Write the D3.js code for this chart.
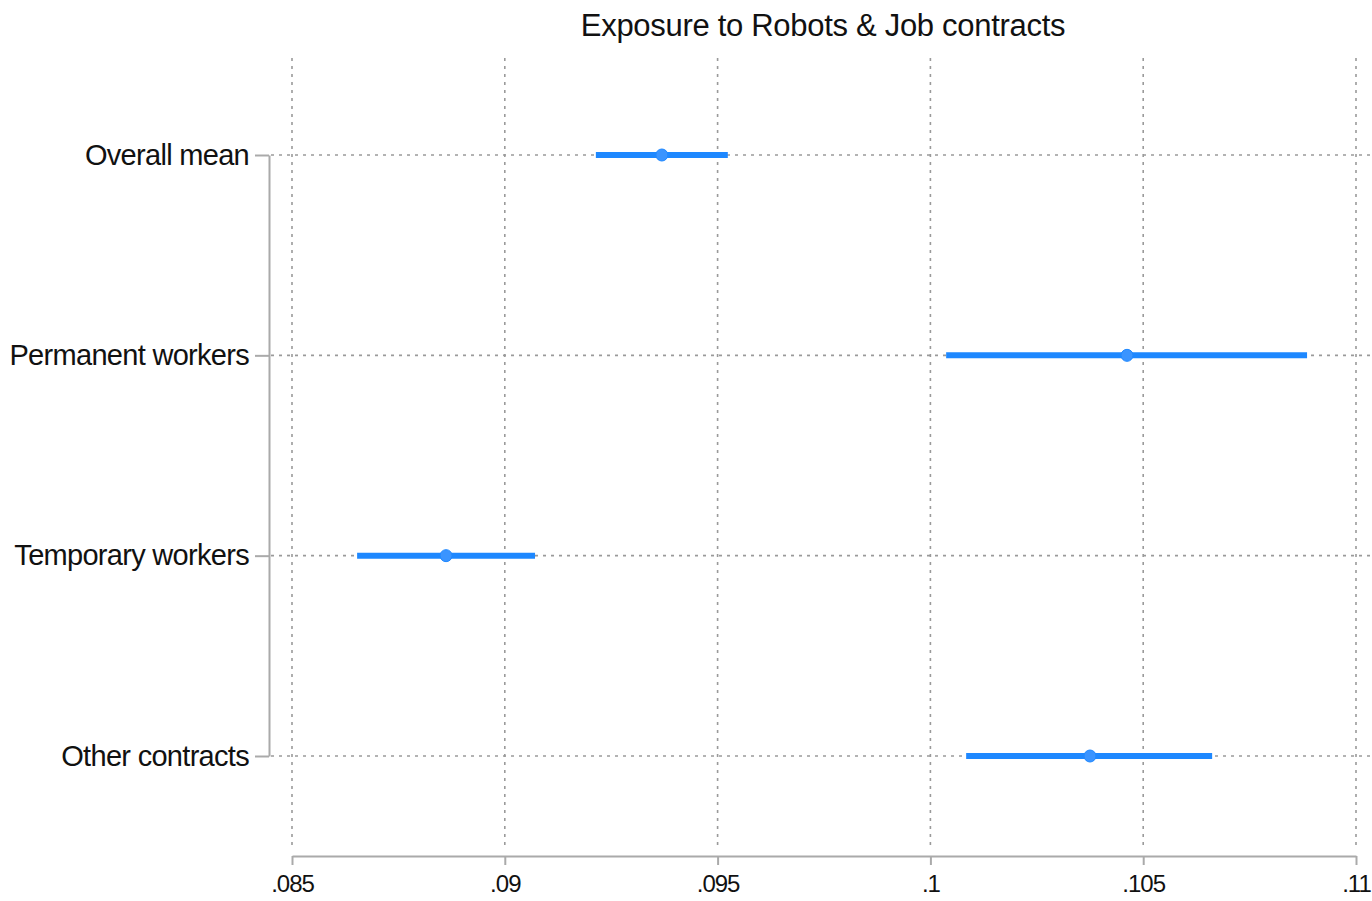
<!DOCTYPE html>
<html>
<head>
<meta charset="utf-8">
<script src="https://cdn.jsdelivr.net/npm/d3@7"></script>
<style>
  html, body { margin: 0; padding: 0; background: #fff; }
  svg { display: block; font-family: "Liberation Sans", Arial, sans-serif; }
</style>
</head>
<body>
<svg id="chart" width="1372" height="901"></svg>
<script>
// Group means with confidence intervals
const categories = ["Overall mean", "Permanent workers", "Temporary workers", "Other contracts"];
const means = [0.09369, 0.10462, 0.08862, 0.10375];
const lower = [0.09214, 0.10037, 0.08653, 0.10084];
const upper = [0.09524, 0.10885, 0.09071, 0.10662];
const xTicks = [0.085, 0.09, 0.095, 0.1, 0.105, 0.11];
const xTickLabels = [".085", ".09", ".095", ".1", ".105", ".11"];
const title = "Exposure to Robots & Job contracts";

const svg = d3.select("#chart");

const plotTop = 58, plotBottom = 850, axisY = 856, axisX = 269, plotRight = 1372;
const x = d3.scaleLinear().domain([0.085, 0.11]).range([292, 1356]);
const y = d3.scalePoint().domain(categories).range([155, 756]);

const gridColor = "#9a9a9a";
const axisColor = "#aaaaaa";
const barColor = "#1e88ff";

// vertical grid lines
svg.append("g").selectAll("line").data(xTicks).join("line")
  .attr("x1", d => x(d)).attr("x2", d => x(d))
  .attr("y1", plotTop).attr("y2", plotBottom)
  .attr("stroke", gridColor).attr("stroke-width", 1.6)
  .attr("stroke-dasharray", "3,5");

// horizontal grid lines
svg.append("g").selectAll("line").data(categories).join("line")
  .attr("x1", axisX + 2).attr("x2", plotRight)
  .attr("y1", d => y(d)).attr("y2", d => y(d))
  .attr("stroke", gridColor).attr("stroke-width", 1.6)
  .attr("stroke-dasharray", "3,5");

// bottom axis
const xAxis = d3.axisBottom(x).tickValues(xTicks)
  .tickFormat((d, i) => xTickLabels[i]).tickSize(9).tickSizeOuter(0);
const gx = svg.append("g").attr("transform", `translate(0,${axisY})`).call(xAxis);
gx.select(".domain").attr("stroke", axisColor).attr("stroke-width", 2);
gx.selectAll(".tick line").attr("stroke", axisColor).attr("stroke-width", 2);
gx.selectAll(".tick text").attr("fill", "#111").attr("font-size", 24)
  .attr("font-family", "Liberation Sans, Arial, sans-serif")
  .attr("letter-spacing", "-1").attr("dy", "1.0em");

// left axis
const yAxis = d3.axisLeft(y).tickSize(14).tickSizeOuter(0).tickPadding(6);
const gy = svg.append("g").attr("transform", `translate(${axisX},0)`).call(yAxis);
gy.select(".domain").attr("stroke", axisColor).attr("stroke-width", 2);
gy.selectAll(".tick line").attr("stroke", axisColor).attr("stroke-width", 2);
gy.selectAll(".tick text").attr("fill", "#111").attr("font-size", 29)
  .attr("font-family", "Liberation Sans, Arial, sans-serif")
  .attr("letter-spacing", "-0.7");

// confidence intervals
const rows = categories.map((c, i) => ({ c, m: means[i], lo: lower[i], hi: upper[i] }));
svg.append("g").selectAll("line").data(rows).join("line")
  .attr("x1", d => x(d.lo)).attr("x2", d => x(d.hi))
  .attr("y1", d => y(d.c)).attr("y2", d => y(d.c))
  .attr("stroke", barColor).attr("stroke-width", 6);

// point estimates
svg.append("g").selectAll("circle").data(rows).join("circle")
  .attr("cx", d => x(d.m)).attr("cy", d => y(d.c)).attr("r", 6)
  .attr("fill", "#3a94ff").attr("stroke", barColor).attr("stroke-width", 1);

// title
svg.append("text")
  .attr("x", 823).attr("y", 36)
  .attr("text-anchor", "middle")
  .attr("font-size", 31).attr("fill", "#111")
  .attr("letter-spacing", "-0.3")
  .text(title);
</script>
</body>
</html>
